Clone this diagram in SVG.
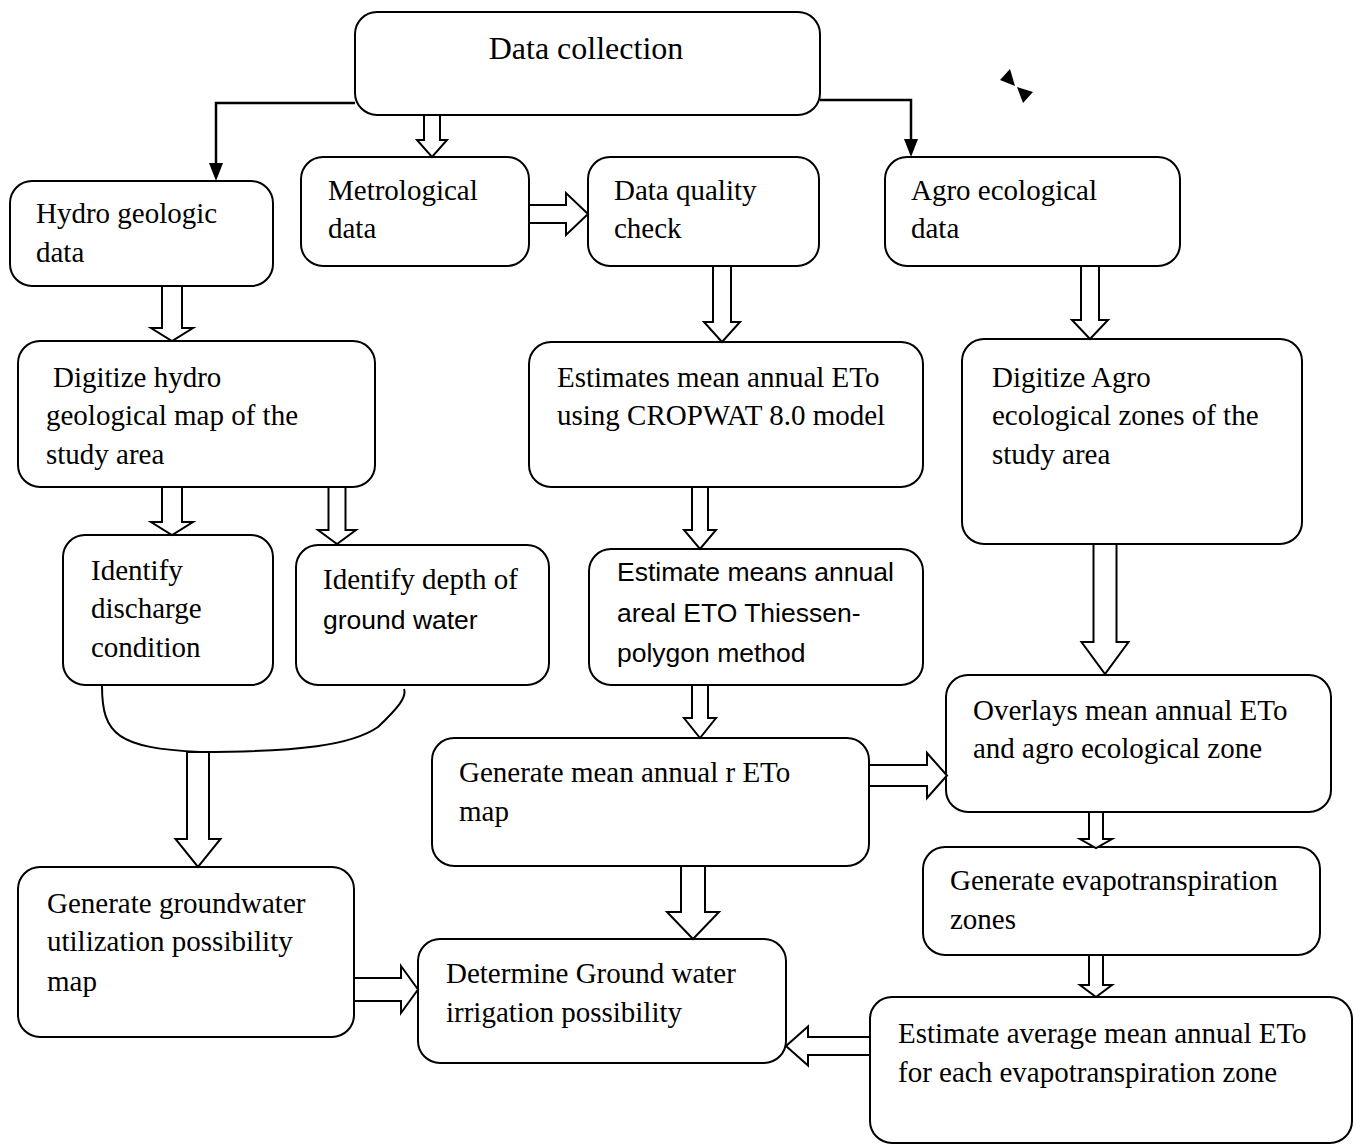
<svg xmlns="http://www.w3.org/2000/svg" width="1356" height="1146" viewBox="0 0 1356 1146">
<style>
.box{fill:#fff;stroke:#000;stroke-width:2}
.t{font-family:"Liberation Serif","Times New Roman",serif;font-size:29px;fill:#000}
.s{font-family:"Liberation Sans",Arial,sans-serif;font-size:26.5px;fill:#000}
.ha{fill:#fff;stroke:#000;stroke-width:2;stroke-linejoin:miter}
.ln{fill:none;stroke:#000;stroke-width:2.5}
.hd{fill:#000;stroke:none}
</style>
<rect width="1356" height="1146" fill="#fff"/>
<g id="nodes">
<g id="data-collection"><rect class="box" x="355" y="12" width="465" height="103" rx="22"/><text class="t" x="586" y="59" text-anchor="middle" style="font-size:32px">Data collection</text></g>
<g id="hydro-geologic"><rect class="box" x="10" y="181" width="263" height="105" rx="22"/><text class="t" x="36" y="223">Hydro geologic</text><text class="t" x="36" y="262">data</text></g>
<g id="metrological"><rect class="box" x="301" y="157" width="228" height="109" rx="22"/><text class="t" x="328" y="200">Metrological</text><text class="t" x="328" y="238">data</text></g>
<g id="data-quality"><rect class="box" x="588" y="157" width="231" height="109" rx="22"/><text class="t" x="614" y="200">Data quality</text><text class="t" x="614" y="238">check</text></g>
<g id="agro-ecological"><rect class="box" x="885" y="157" width="295" height="109" rx="22"/><text class="t" x="911" y="200">Agro ecological</text><text class="t" x="911" y="238">data</text></g>
<g id="digitize-hydro"><rect class="box" x="18" y="341" width="357" height="146" rx="22"/><text class="t" x="53" y="387">Digitize hydro</text><text class="t" x="46" y="425">geological map of the</text><text class="t" x="46" y="464">study area</text></g>
<g id="estimates-eto"><rect class="box" x="529" y="342" width="394" height="145" rx="22"/><text class="t" x="557" y="387">Estimates mean annual ETo</text><text class="t" x="557" y="425">using CROPWAT 8.0 model</text></g>
<g id="digitize-agro"><rect class="box" x="962" y="339" width="340" height="205" rx="22"/><text class="t" x="992" y="387">Digitize Agro</text><text class="t" x="992" y="425">ecological zones of the</text><text class="t" x="992" y="464">study area</text></g>
<g id="identify-discharge"><rect class="box" x="63" y="535" width="210" height="150" rx="22"/><text class="t" x="91" y="580">Identify</text><text class="t" x="91" y="618">discharge</text><text class="t" x="91" y="657">condition</text></g>
<g id="identify-depth"><rect class="box" x="296" y="545" width="253" height="140" rx="22"/><text class="t" x="323" y="589">Identify depth of</text><text class="s" x="323" y="629">ground water</text></g>
<g id="estimate-areal"><rect class="box" x="589" y="549" width="334" height="136" rx="22"/><text class="s" x="617" y="581">Estimate means annual</text><text class="s" x="617" y="622">areal ETO Thiessen-</text><text class="s" x="617" y="662">polygon method</text></g>
<g id="overlays"><rect class="box" x="946" y="675" width="385" height="137" rx="22"/><text class="t" x="973" y="720">Overlays mean annual ETo</text><text class="t" x="973" y="758">and agro ecological zone</text></g>
<g id="generate-eto-map"><rect class="box" x="432" y="738" width="437" height="128" rx="22"/><text class="t" x="459" y="782">Generate mean annual r ETo</text><text class="t" x="459" y="821">map</text></g>
<g id="generate-evapo"><rect class="box" x="923" y="847" width="397" height="108" rx="22"/><text class="t" x="950" y="890">Generate evapotranspiration</text><text class="t" x="950" y="929">zones</text></g>
<g id="generate-groundwater"><rect class="box" x="18" y="867" width="336" height="170" rx="22"/><text class="t" x="47" y="913">Generate groundwater</text><text class="t" x="47" y="951">utilization possibility</text><text class="t" x="47" y="991">map</text></g>
<g id="determine"><rect class="box" x="418" y="939" width="368" height="124" rx="22"/><text class="t" x="446" y="983">Determine Ground water</text><text class="t" x="446" y="1022">irrigation possibility</text></g>
<g id="estimate-average"><rect class="box" x="870" y="997" width="482" height="146" rx="22"/><text class="t" x="898" y="1043">Estimate average mean annual ETo</text><text class="t" x="898" y="1082">for each evapotranspiration zone</text></g>
</g>
<g id="connectors">
<path class="ln" d="M355,103 H216 V164"/><polygon class="hd" points="216,181 209,163 223,163"/>
<path class="ln" d="M820,100 H911 V140"/><polygon class="hd" points="911,157 904,139 918,139"/>
<polygon class="ha" points="424,115 440,115 440,140 447,140 432,157 417,140 424,140"/>
<polygon class="ha" points="529,205 566,205 566,193 588,214 566,235 566,223 529,223"/>
<polygon class="ha" points="713,266 731,266 731,322 740,322 722,342 704,322 713,322"/>
<polygon class="ha" points="1081,266 1099,266 1099,320 1108,320 1090,339 1072,320 1081,320"/>
<polygon class="ha" points="162,286 182,286 182,328 193,328 172,341 151,328 162,328"/>
<polygon class="ha" points="162,487 182,487 182,522 193,522 172,535 151,522 162,522"/>
<polygon class="ha" points="328.5,487 345.5,487 345.5,530 356,530 337,544 318,530 328.5,530"/>
<polygon class="ha" points="692,487 708,487 708,530 716,530 700,549 684,530 692,530"/>
<polygon class="ha" points="1093.5,544 1116.5,544 1116.5,642 1128.5,642 1105,674 1081.5,642 1093.5,642"/>
<polygon class="ha" points="692,685 708,685 708,718 716,718 700,738 684,718 692,718"/>
<polygon class="ha" points="869,765 927,765 927,753 947,775.5 927,798 927,786 869,786"/>
<polygon class="ha" points="1089,812 1103,812 1103,839 1112,839 1096,848 1080,839 1089,839"/>
<polygon class="ha" points="1089,955 1103,955 1103,985 1112,985 1096,997 1080,985 1089,985"/>
<polygon class="ha" points="681,866 705,866 705,912 719,912 693,939 667,912 681,912"/>
<polygon class="ha" points="354,978 401,978 401,966 418,989.5 401,1013 401,1001 354,1001"/>
<polygon class="ha" points="870,1037 808,1037 808,1026.5 786,1046 808,1065.5 808,1055 870,1055"/>
<path fill="none" stroke="#000" stroke-width="2" d="M102,686 C102,735 118,748 200,752 C300,752 352,745 378,727 C398,708 407,697 404,689"/>
<polygon class="ha" points="187,752 209,752 209,839 220.5,839 198,867 175.5,839 187,839"/>
</g>
<g id="bowtie">
<polygon class="hd" points="1000,80 1010,69 1015,86"/>
<polygon class="hd" points="1017,87 1033,92 1023,103"/>
</g>
</svg>
